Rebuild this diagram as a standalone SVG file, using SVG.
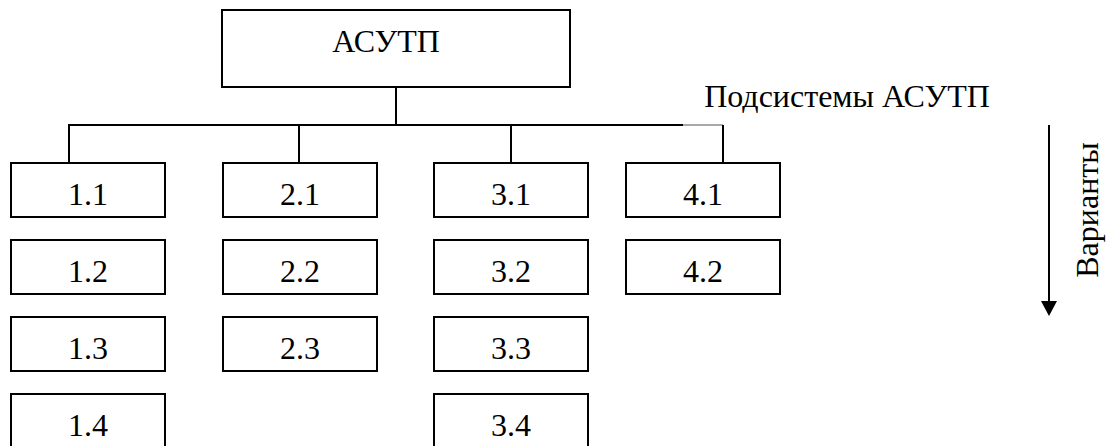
<svg xmlns="http://www.w3.org/2000/svg" width="1106" height="446" viewBox="0 0 1106 446">
  <style>
    .box { fill: #fff; stroke: #000; stroke-width: 2; }
    .lbl { font-family: "Liberation Serif", "Times New Roman", serif; font-size: 32px; fill: #000; text-anchor: middle; }
    .ln { stroke: #000; stroke-width: 2; fill: none; }
    .thin { stroke: #555; stroke-width: 1; fill: none; }
  </style>

  <!-- tree connectors -->
  <g id="connectors">
    <line class="ln" x1="396" y1="87" x2="396" y2="125"/>
    <line class="ln" x1="68" y1="125" x2="683" y2="125"/>
    <line class="thin" x1="683" y1="125" x2="723" y2="125"/>
    <line class="ln" x1="69" y1="125" x2="69" y2="163"/>
    <line class="ln" x1="299" y1="125" x2="299" y2="163"/>
    <line class="ln" x1="511" y1="125" x2="511" y2="163"/>
    <line class="ln" x1="723" y1="125" x2="723" y2="163"/>
  </g>

  <!-- root -->
  <g id="root">
    <rect class="box" x="222" y="10" width="348" height="77"/>
    <text class="lbl" x="386" y="52">АСУТП</text>
  </g>

  <!-- subsystem label -->
  <g id="subsystems-label">
    <text class="lbl" x="847" y="107">Подсистемы АСУТП</text>
  </g>

  <!-- variants axis -->
  <g id="variants-axis">
    <line class="ln" x1="1049" y1="125" x2="1049" y2="302"/>
    <path d="M1041,301 L1057,301 L1049,316 Z" fill="#000"/>
    <text class="lbl" transform="translate(1098,210) rotate(-90)">Варианты</text>
  </g>

  <!-- column 1 -->
  <g id="n1-1"><rect class="box" x="11" y="163" width="154" height="54"/><text class="lbl" x="88" y="205">1.1</text></g>
  <g id="n1-2"><rect class="box" x="11" y="240" width="154" height="54"/><text class="lbl" x="88" y="282">1.2</text></g>
  <g id="n1-3"><rect class="box" x="11" y="317" width="154" height="54"/><text class="lbl" x="88" y="359">1.3</text></g>
  <g id="n1-4"><rect class="box" x="11" y="394" width="154" height="54"/><text class="lbl" x="88" y="436">1.4</text></g>

  <!-- column 2 -->
  <g id="n2-1"><rect class="box" x="223" y="163" width="154" height="54"/><text class="lbl" x="300" y="205">2.1</text></g>
  <g id="n2-2"><rect class="box" x="223" y="240" width="154" height="54"/><text class="lbl" x="300" y="282">2.2</text></g>
  <g id="n2-3"><rect class="box" x="223" y="317" width="154" height="54"/><text class="lbl" x="300" y="359">2.3</text></g>

  <!-- column 3 -->
  <g id="n3-1"><rect class="box" x="434" y="163" width="154" height="54"/><text class="lbl" x="511" y="205">3.1</text></g>
  <g id="n3-2"><rect class="box" x="434" y="240" width="154" height="54"/><text class="lbl" x="511" y="282">3.2</text></g>
  <g id="n3-3"><rect class="box" x="434" y="317" width="154" height="54"/><text class="lbl" x="511" y="359">3.3</text></g>
  <g id="n3-4"><rect class="box" x="434" y="394" width="154" height="54"/><text class="lbl" x="511" y="436">3.4</text></g>

  <!-- column 4 -->
  <g id="n4-1"><rect class="box" x="626" y="163" width="154" height="54"/><text class="lbl" x="703" y="205">4.1</text></g>
  <g id="n4-2"><rect class="box" x="626" y="240" width="154" height="54"/><text class="lbl" x="703" y="282">4.2</text></g>
</svg>
